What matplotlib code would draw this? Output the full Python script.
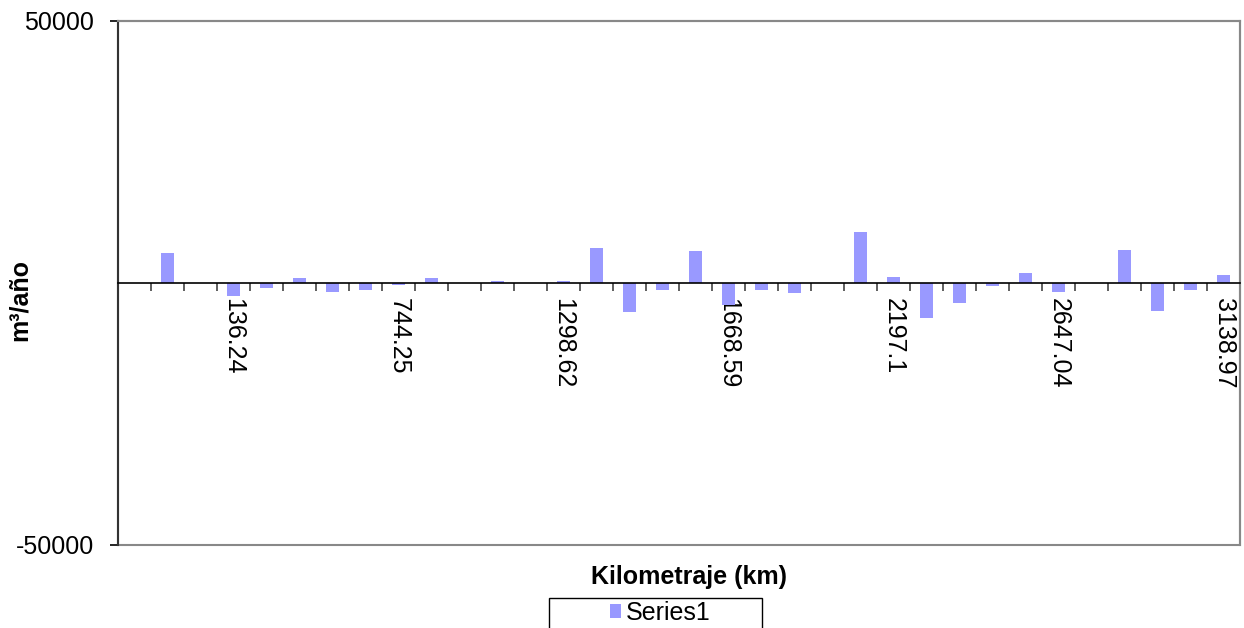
import matplotlib.pyplot as plt
import numpy as np
from matplotlib.patches import Patch, Rectangle

plt.rcParams['font.family'] = ['Liberation Sans', 'DejaVu Sans']

# one value per category (m3/año)
values = [0, 5700, 0, -2400, -900, 950, -1650, -1400, -300, 1000,
          0, 350, -80, 400, 6700, -5600, -1270, 6100, -4200, -1400,
          -1850, 0, 9750, 1200, -6700, -3870, -500, 1850, -1720, 0,
          6240, -5340, -1270, 1530]
label_pos = [3, 8, 13, 18, 23, 28, 33]
label_txt = ['136.24', '744.25', '1298.62', '1668.59', '2197.1', '2647.04', '3138.97']
y_ticks = [-50000, 50000]

bar_color = '#9999FF'
fs = 18

fig = plt.figure(figsize=(12.44, 6.28), dpi=100)
ax = fig.add_axes([118/1244, 1 - 545/628, 1122/1244, 524/628])

xs = np.arange(len(values))
ax.bar(xs, values, width=0.4, color=bar_color, zorder=2)

ax.set_xlim(-0.5, len(values) - 0.5)
ax.set_ylim(-50000, 50000)

# x axis sits on zero, plot frame drawn grey
ax.spines['bottom'].set_position(('data', 0))
ax.spines['bottom'].set_color('black')
ax.spines['bottom'].set_linewidth(1.2)
ax.spines['left'].set_color('#333333')
ax.spines['left'].set_linewidth(1.5)
for s in ('top', 'right'):
    ax.spines[s].set_color('#888888')
    ax.spines[s].set_linewidth(1.5)
ax.add_patch(Rectangle((0, 0), 1, 1, transform=ax.transAxes, fill=False,
                       edgecolor='#888888', lw=1.5, zorder=0, clip_on=False))

ax.set_xticks(label_pos)
ax.set_xticklabels(label_txt, rotation=270, fontsize=fs, va='top', ha='center')
ax.set_xticks(np.arange(0.5, len(values) - 0.5, 1), minor=True)
ax.tick_params(axis='x', which='major', length=0, pad=11)
ax.tick_params(axis='x', which='minor', length=6, width=1.2, color='#444444', direction='out')

ax.set_yticks(y_ticks)
ax.set_yticklabels([str(v) for v in y_ticks], fontsize=fs)
ax.tick_params(axis='y', length=6, width=1.2, direction='out', pad=11)

ax.set_xlabel('Kilometraje (km)', fontsize=fs, fontweight='bold')
ax.xaxis.set_label_coords(0.509, -0.038)
ax.set_ylabel('m³/año', fontsize=fs, fontweight='bold')
ax.yaxis.set_label_coords(-0.077, 0.468)

# legend box, cut off by the bottom of the figure like the original
fig.patches.append(Rectangle((549/1244, -0.05), 213/1244, 30/628 + 0.05,
                             transform=fig.transFigure, fill=False,
                             edgecolor='black', lw=1.0))
fig.legend(handles=[Patch(facecolor=bar_color, label='Series1')],
           loc='center', bbox_to_anchor=(660/1244, 1 - 613/628),
           frameon=False, fontsize=fs, handlelength=0.45, handleheight=0.45,
           handletextpad=0.2, borderpad=0)

fig.savefig('out.png', dpi=100)
